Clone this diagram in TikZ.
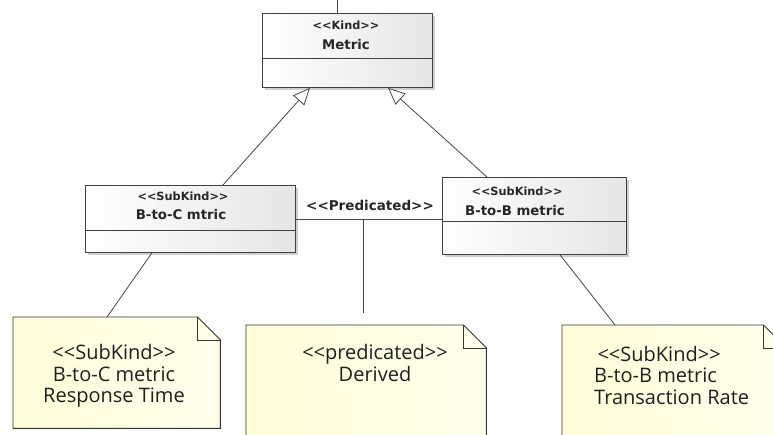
\documentclass[tikz,border=0pt]{standalone}
\usepackage{fontspec}
\newfontfamily\notefont{Open Sans}
\newfontfamily\boxfont{DejaVu Sans}
\usetikzlibrary{arrows.meta,shadows,calc}

% stereotype brackets, kept as two separate characters
\newcommand\stopen{<\kern0pt<}
\newcommand\stclose{>\kern0pt>}

\definecolor{notefill}{RGB}{255,255,218}
\definecolor{notefillb}{RGB}{255,255,236}
\definecolor{linegray}{RGB}{70,70,70}

\tikzset{
  classbox/.style={draw=black!75, line width=0.8pt, inner sep=0pt, anchor=north west,
    left color=white, right color=black!10,
    drop shadow={shadow xshift=2.5pt, shadow yshift=-2.5pt, opacity=0.3, fill=black!60}},
  divider/.style={draw=black!75, line width=0.8pt},
  stereo/.style={font=\boxfont\bfseries\fontsize{11.3}{13}\selectfont, text=black!85, inner sep=0pt},
  cname/.style={font=\boxfont\bfseries\fontsize{13.3}{15}\selectfont, text=black!85, inner sep=0pt},
  predlabel/.style={font=\boxfont\bfseries\fontsize{13.5}{15}\selectfont, text=black!85, inner sep=0pt},
  conn/.style={draw=linegray, line width=0.8pt},
  gen/.style={conn, -{Triangle[length=17pt, width=15pt, fill=white, line width=0.8pt]}},
  notebox/.style={inner sep=0pt, anchor=north west},
  notetext/.style={font=\notefont\fontsize{20}{21.5}\selectfont, text=black!88, inner sep=0pt},
}

% folded-corner note drawn around a named node
\newcommand\notedraw[1]{%
  \draw[draw=black!80, line width=0.9pt, left color=notefill, right color=notefillb]
    (#1.north west) -- ([xshift=-23pt]#1.north east) -- ([yshift=-23pt]#1.north east)
    -- (#1.south east) -- (#1.south west) -- cycle;
  \draw[draw=black!80, line width=0.9pt]
    ([xshift=-23pt]#1.north east) -- ([xshift=-23pt,yshift=-23pt]#1.north east)
    -- ([yshift=-23pt]#1.north east);
}

\begin{document}
\begin{tikzpicture}[x=1pt,y=-1pt]
\useasboundingbox (0,0) rectangle (773,434);
\clip (0,0) rectangle (773,434);
\fill[white] (0,0) rectangle (773,434);

% ---- classes ----
\node[classbox, minimum width=170pt, minimum height=74pt] (metric) at (262,13) {};
\draw[divider] ([yshift=-45pt]metric.north west) -- ([yshift=-45pt]metric.north east);
\node[stereo] (metricst) at (346,25) {\stopen Kind\stclose};
\node[cname] (metricname) at (346,45) {Metric};

\node[classbox, minimum width=210pt, minimum height=67pt] (btoc) at (85,185) {};
\draw[divider] ([yshift=-45pt]btoc.north west) -- ([yshift=-45pt]btoc.north east);
\node[stereo] (btocst) at (183,196) {\stopen SubKind\stclose};
\node[cname] (btocname) at (181,215) {B-to-C mtric};

\node[classbox, minimum width=184pt, minimum height=77pt] (btob) at (442,177) {};
\draw[divider] ([yshift=-44pt]btob.north west) -- ([yshift=-44pt]btob.north east);
\node[stereo] (btobst) at (517,191) {\stopen SubKind\stclose};
\node[cname] (btobname) at (515,211) {B-to-B metric};

% ---- notes ----
\node[notebox, minimum width=207pt, minimum height=111pt] (noteC) at (13,317) {};
\notedraw{noteC}
\node[notetext, align=center] (noteCtext) at (114,376)
  {\stopen SubKind\stclose\\B-to-C metric\\Response Time};

\node[notebox, minimum width=240pt, minimum height=130pt] (derived) at (246,325) {};
\notedraw{derived}
\node[notetext, align=center] (derivedtext) at (375,363)
  {\stopen predicated\stclose\\Derived};

\node[notebox, minimum width=224pt, minimum height=130pt] (noteB) at (562,325) {};
\notedraw{noteB}
\node[notetext, align=left, anchor=west] (noteBtext) at (594,375)
  {\,\stopen SubKind\stclose\\B-to-B metric\\Transaction Rate};

% ---- connectors ----
\coordinate (topend) at (337,0);
\draw[conn] (topend) -- (topend |- metric.north);

\draw[gen] ($(btoc.north west)+(138,0)$) -- ($(metric.south west)+(48,0)$);
\draw[gen] ($(btob.north west)+(45,0)$) -- ($(metric.south west)+(126,0)$);

\draw[conn] (btoc.east) -- (btoc.east -| btob.west);
\path (btoc.east) -- (btoc.east -| btob.west) coordinate[pos=0.46] (predmid);
\node[predlabel] (predlbl) at (370,205) {\stopen Predicated\stclose};
\draw[conn] (predmid) -- ([yshift=12pt]predmid |- derived.north);

\draw[conn] ($(btoc.south west)+(67,0)$) -- ($(noteC.north west)+(94,0)$);
\draw[conn] ($(btob.south west)+(118,0)$) -- ($(noteB.north west)+(53,0)$);
\end{tikzpicture}
\end{document}
